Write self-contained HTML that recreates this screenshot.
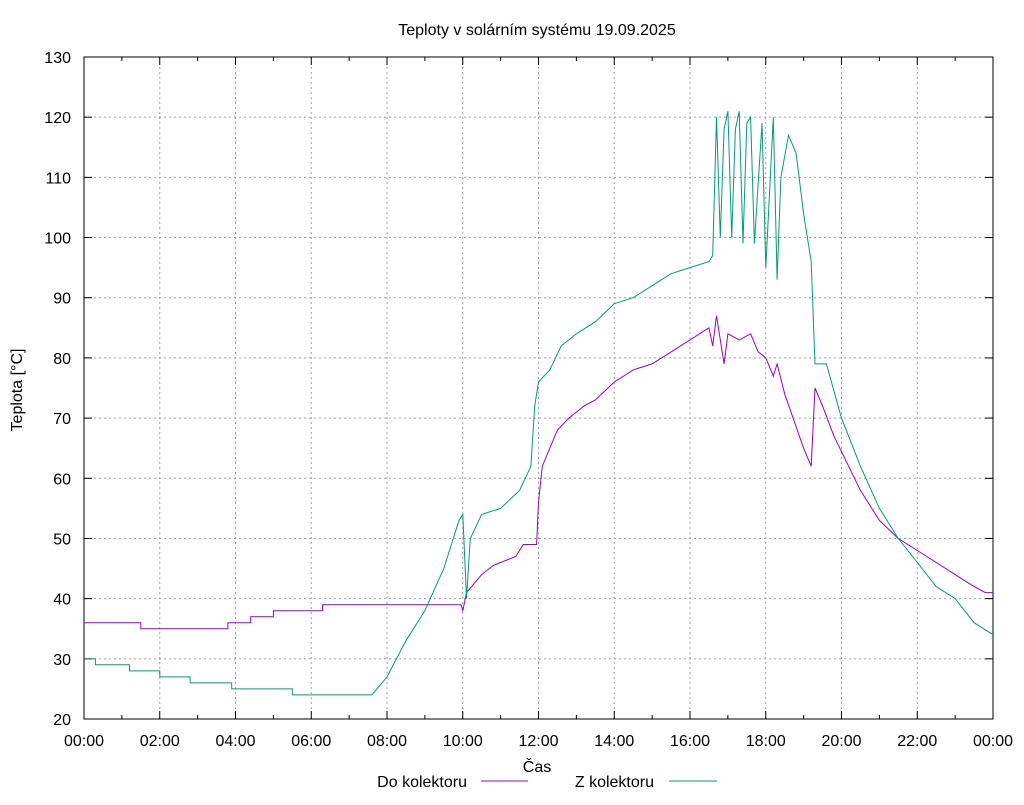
<!DOCTYPE html>
<html><head><meta charset="utf-8"><style>
body{margin:0;background:#fff}
svg text{font-family:"Liberation Sans",Arial,sans-serif;font-size:16px;fill:#000}
</style></head><body>
<svg id="s" width="1024" height="800" xmlns="http://www.w3.org/2000/svg">
<rect width="1024" height="800" fill="#fff"/>
<g id="grid"></g>
<rect x="84" y="57" width="909" height="662" fill="none" stroke="#000" stroke-width="1"/>
<text x="537" y="35" text-anchor="middle">Teploty v solárním systému 19.09.2025</text>
<text x="537" y="772" text-anchor="middle">Čas</text>
<text transform="translate(22,390) rotate(-90)" text-anchor="middle">Teplota [°C]</text>
<text x="467" y="787" text-anchor="end">Do kolektoru</text>
<line x1="481" y1="781" x2="528" y2="781" stroke="#9400d3"/>
<text x="654" y="787" text-anchor="end">Z kolektoru</text>
<line x1="669" y1="781" x2="717" y2="781" stroke="#009e73"/>
<path id="p1" fill="none" stroke="#9400d3" stroke-width="1"/>
<path id="p2" fill="none" stroke="#009e73" stroke-width="1"/>
</svg>
<script>
var X=h=>84+h*909/24, Y=t=>719-(t-20)*662/110;
var g=document.getElementById('grid'),s='';
for(var t=20;t<=130;t+=10){var y=Y(t);
 if(t>20&&t<130)s+=`<line x1="84" x2="993" y1="${y}" y2="${y}" stroke="#a0a0a0" stroke-dasharray="2,3"/>`;
 s+=`<line x1="84" x2="92" y1="${y}" y2="${y}" stroke="#000"/><line x1="985" x2="993" y1="${y}" y2="${y}" stroke="#000"/>`;
 s+=`<text x="71" y="${y+6}" text-anchor="end">${t}</text>`;}
for(var h=0;h<=24;h++){var x=X(h);
 if(h%2==0){ if(h>0&&h<24)s+=`<line y1="57" y2="719" x1="${x}" x2="${x}" stroke="#a0a0a0" stroke-dasharray="2,3"/>`;
  s+=`<line y1="719" y2="711" x1="${x}" x2="${x}" stroke="#000"/><line y1="57" y2="65" x1="${x}" x2="${x}" stroke="#000"/>`;
  s+=`<text x="${x}" y="746" text-anchor="middle">${String(h%24).padStart(2,'0')}:00</text>`;}
 else s+=`<line y1="719" y2="715" x1="${x}" x2="${x}" stroke="#000"/><line y1="57" y2="61" x1="${x}" x2="${x}" stroke="#000"/>`;}
g.innerHTML=s;
var a=[[0,36],[1.5,36],[1.5,35],[3.8,35],[3.8,36],[4.4,36],[4.4,37],[5,37],[5,38],[6.3,38],[6.3,39],[9.95,39],[10,38],[10.1,41],[10.5,44],[10.8,45.5],[11,46],[11.4,47],[11.6,49],[11.95,49],[12,56],[12.1,62],[12.5,68],[12.8,70],[13.2,72],[13.5,73],[14,76],[14.5,78],[15,79],[15.5,81],[16,83],[16.5,85],[16.6,82],[16.7,87],[16.9,79],[17,84],[17.3,83],[17.6,84],[17.8,81],[18,80],[18.2,77],[18.3,79],[18.5,74],[19,65],[19.2,62],[19.3,75],[19.5,72],[19.8,67],[20.5,58],[21,53],[21.5,50],[22,48],[22.5,46],[23,44],[23.5,42],[23.8,41],[24,41]];
var b=[[0,30],[0.3,30],[0.3,29],[1.2,29],[1.2,28],[2,28],[2,27],[2.8,27],[2.8,26],[3.9,26],[3.9,25],[5.5,25],[5.5,24],[7.6,24],[8,27],[8.5,33],[9,38],[9.5,45],[9.9,53],[10,54],[10.1,40],[10.2,50],[10.5,54],[11,55],[11.5,58],[11.8,62],[11.9,72],[12,76],[12.3,78],[12.6,82],[13,84],[13.5,86],[14,89],[14.5,90],[15,92],[15.5,94],[16,95],[16.5,96],[16.6,97],[16.7,120],[16.8,100],[16.9,118],[17,121],[17.1,100],[17.2,118],[17.3,121],[17.4,99],[17.5,119],[17.6,120],[17.7,99],[17.9,119],[18,95],[18.2,120],[18.3,93],[18.4,110],[18.6,117],[18.8,114],[19,104],[19.2,96],[19.3,79],[19.6,79],[20,70],[20.5,62],[21,55],[21.5,50],[22,46],[22.5,42],[23,40],[23.5,36],[24,34]];
function P(d){return d.map((p,i)=>(i?'L':'M')+X(p[0]).toFixed(1)+','+Y(p[1]).toFixed(1)).join('')}
document.getElementById('p1').setAttribute('d',P(a));
document.getElementById('p2').setAttribute('d',P(b));
</script>
</body></html>
